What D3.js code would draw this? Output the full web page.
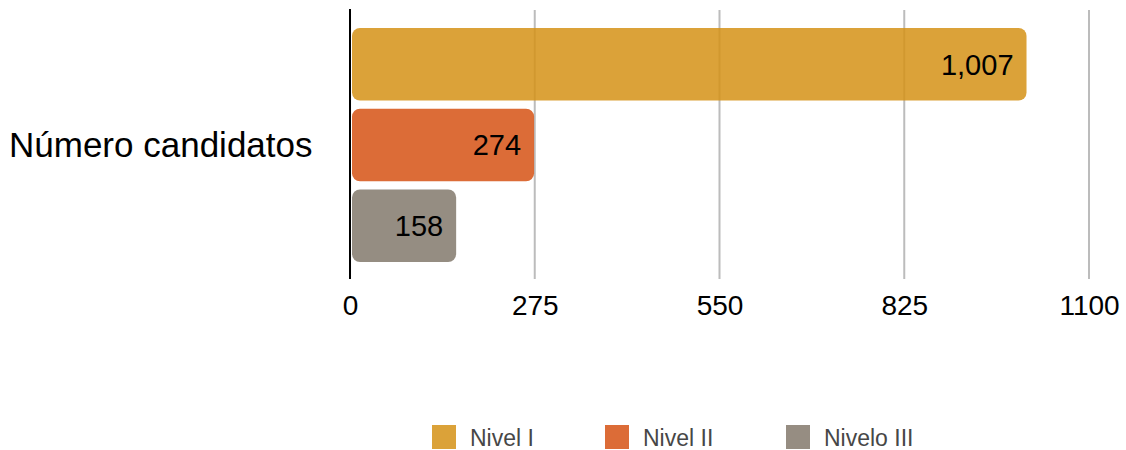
<!DOCTYPE html>
<html>
<head>
<meta charset="utf-8">
<script src="https://cdn.jsdelivr.net/npm/d3@7"></script>
<style>
  body { margin: 0; background: #fff; }
  text { font-family: "Liberation Sans", Arial, Helvetica, sans-serif; }
</style>
</head>
<body>
<svg id="chart"></svg>
<script>
const width = 1126;
const height = 450;

const category = "Número candidatos";
const series = ["Nivel I", "Nivel II", "Nivelo III"];
const values = [1007, 274, 158];
const colors = ["#dba239", "#dc6c37", "#968d82"];
const tickValues = [0, 275, 550, 825, 1100];

// bars are slightly see-through so the gridlines show faintly behind them
const barOpacity = 0.85;
const barFill = c => {
  const rgb = d3.rgb(c);
  const f = v => Math.max(0, 255 - (255 - v) / barOpacity);
  return d3.rgb(f(rgb.r), f(rgb.g), f(rgb.b)).formatHex();
};

const svg = d3.select("#chart")
  .attr("width", width)
  .attr("height", height);

const x = d3.scaleLinear().domain([0, 1100]).range([350, 1089]);
const y = d3.scaleBand().domain(series).range([28, 262]).paddingInner(0.1);

// gridlines
svg.selectAll("line.grid")
  .data(tickValues.slice(1))
  .enter()
  .append("line")
  .attr("class", "grid")
  .attr("x1", d => x(d))
  .attr("x2", d => x(d))
  .attr("y1", 10)
  .attr("y2", 279)
  .attr("stroke", "#bcbcbc")
  .attr("stroke-width", 2);

// bars
svg.selectAll("path.bar")
  .data(series)
  .enter()
  .append("path")
  .attr("class", "bar")
  .attr("fill", (d, i) => barFill(colors[i]))
  .attr("fill-opacity", barOpacity)
  .attr("d", (d, i) => {
    const x0 = x(0) + 2, x1 = x(values[i]);
    const y0 = y(d), h = y.bandwidth(), r = 8;
    const p = d3.path();
    p.moveTo(x0 + r, y0);
    p.lineTo(x1 - r, y0);
    p.arcTo(x1, y0, x1, y0 + r, r);
    p.lineTo(x1, y0 + h - r);
    p.arcTo(x1, y0 + h, x1 - r, y0 + h, r);
    p.lineTo(x0 + r, y0 + h);
    p.arcTo(x0, y0 + h, x0, y0 + h - r, r);
    p.lineTo(x0, y0 + r);
    p.arcTo(x0, y0, x0 + r, y0, r);
    p.closePath();
    return p.toString();
  });

// zero axis
svg.append("line")
  .attr("x1", x(0)).attr("x2", x(0))
  .attr("y1", 9).attr("y2", 279)
  .attr("stroke", "#000")
  .attr("stroke-width", 2);

// value labels
svg.selectAll("text.value")
  .data(series)
  .enter()
  .append("text")
  .attr("class", "value")
  .attr("x", (d, i) => x(values[i]) - 13)
  .attr("y", d => y(d) + y.bandwidth() / 2)
  .attr("dy", "0.36em")
  .attr("text-anchor", "end")
  .attr("font-size", 29)
  .attr("fill", "#000")
  .text((d, i) => d3.format(",")(values[i]));

// x axis
const xAxis = d3.axisBottom(x).tickValues(tickValues).tickSize(0).tickPadding(0).tickFormat(d3.format("d"));
const gx = svg.append("g")
  .attr("transform", "translate(0,315)")
  .call(xAxis);
gx.select(".domain").remove();
gx.selectAll("text")
  .attr("font-size", 28)
  .attr("font-family", "Liberation Sans, Arial, sans-serif")
  .attr("fill", "#000")
  .attr("dy", 0);

// category label
svg.append("text")
  .attr("x", 9)
  .attr("y", 157)
  .attr("font-size", 35)
  .attr("fill", "#000")
  .text(category);

// legend
const legendX = [432, 605, 786];
const legend = svg.selectAll("g.legend")
  .data(series)
  .enter()
  .append("g")
  .attr("class", "legend")
  .attr("transform", (d, i) => `translate(${legendX[i]},425)`);

legend.append("rect")
  .attr("width", 24)
  .attr("height", 24)
  .attr("fill", (d, i) => colors[i]);

legend.append("text")
  .attr("x", 38)
  .attr("y", 21)
  .attr("font-size", 23)
  .attr("fill", "#474747")
  .text(d => d);
</script>
</body>
</html>
